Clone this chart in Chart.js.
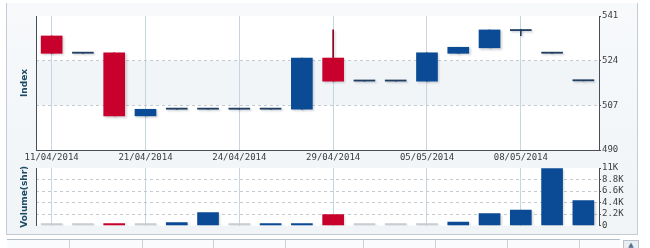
<!DOCTYPE html>
<html>
<head>
<meta charset="utf-8">
<script src="https://cdn.jsdelivr.net/npm/chart.js@4.4.1/dist/chart.umd.min.js"></script>
<style>
  body { margin: 0; width: 650px; height: 248px; background: #fff; overflow: hidden; position: relative; }
  #frame { position: absolute; left: 6px; top: 3px; width: 630px; height: 231px;
           border-left: 1px solid #c3ccd4; border-right: 1px solid #c3ccd4; border-bottom: 1px solid #c3ccd4;
           background: linear-gradient(#f7f9fb, #f0f4f7); }
  #priceBox { position: absolute; left: 0; top: 0; width: 650px; height: 165px; }
  #volBox { position: absolute; left: 0; top: 160px; width: 650px; height: 72px; }
  #strip { position: absolute; left: 7px; top: 239px; width: 613px; height: 9px; border-top: 1px solid #b4bec8; background: #fafbfc; }
  #strip div { position: absolute; top: 0; height: 9px; border-left: 1px solid #c8d0d8; }
  #scrollBtn { position: absolute; left: 623px; top: 240px; width: 14px; height: 8px; border: 1px solid #b8c2cc; border-bottom: none;
               background: #e9eef2; font: 7px 'DejaVu Sans'; color: #56708a; text-align: center; line-height: 9px; }
</style>
</head>
<body>
<div id="frame"></div>
<div id="priceBox"><canvas id="priceChart" width="650" height="165"></canvas></div>
<div id="volBox"><canvas id="volChart" width="650" height="72"></canvas></div>
<div id="strip">
  <div style="left:62px"></div><div style="left:135px"></div><div style="left:206px"></div><div style="left:278px"></div>
  <div style="left:356px"></div><div style="left:428px"></div><div style="left:500px"></div><div style="left:572px"></div>
</div>
<div id="scrollBtn">▲</div>
<script>
// dates des séances
const dates = ['11/04/2014','14/04/2014','17/04/2014','21/04/2014','22/04/2014','23/04/2014',
               '24/04/2014','25/04/2014','28/04/2014','29/04/2014','30/04/2014','02/05/2014',
               '05/05/2014','06/05/2014','07/05/2014','08/05/2014','09/05/2014','12/05/2014'];
const openVals  = [533.4, 526.8, 527.0, 503.0, 505.5, 505.5, 505.5, 505.5, 505.5, 525.0, 516.2, 516.2, 516.2, 526.8, 528.9, 535.4, 526.8, 516.3];
const closeVals = [526.8, 526.8, 503.0, 505.5, 505.5, 505.5, 505.5, 505.5, 525.0, 516.2, 516.2, 516.2, 527.0, 529.1, 535.7, 535.4, 526.8, 516.3];
const highVals  = [533.4, 526.8, 527.0, 505.5, 505.5, 505.5, 505.5, 505.5, 525.0, 535.7, 516.2, 516.2, 527.0, 529.1, 535.7, 535.9, 526.8, 516.3];
const lowVals   = [526.8, 526.8, 503.0, 503.0, 505.5, 505.5, 505.5, 505.5, 505.5, 516.2, 516.2, 516.2, 516.2, 526.8, 528.9, 533.5, 526.8, 516.3];
const volumes   = [0, 0, 150, 0, 600, 2500, 0, 350, 350, 2100, 0, 0, 0, 650, 2300, 2950, 10900, 4800];
const priceTicks = [490, 507, 524, 541];
const volTicks = [0, 2200, 4400, 6600, 8800, 11000];

const RED = '#c8002c', BLUE = '#0b4a95', FLAT = '#213f63', GREY = '#c7cdd3';
const tickFont = { family: 'DejaVu Sans Mono', size: 9 };
const titleFont = { family: 'DejaVu Sans', size: 9, weight: 'bold' };

function candleColor(i) {
  if (openVals[i] > closeVals[i]) return RED;
  if (closeVals[i] > openVals[i]) return BLUE;
  return FLAT;
}

// fond blanc + bande grise
const bandPlugin = {
  id: 'band',
  beforeDraw(chart, args, opts) {
    const { ctx, chartArea: a } = chart;
    ctx.save();
    ctx.fillStyle = '#ffffff';
    ctx.fillRect(a.left, a.top, a.width, a.height);
    if (opts.from != null) {
      const y = chart.scales.y;
      const y1 = y.getPixelForValue(opts.to), y2 = y.getPixelForValue(opts.from);
      ctx.fillStyle = '#f2f5f8';
      ctx.fillRect(a.left, y1, a.width, y2 - y1);
    }
    ctx.restore();
  }
};
const shadowPlugin = {
  id: 'shadow',
  beforeDatasetsDraw(chart) {
    const ctx = chart.ctx;
    ctx.save();
    ctx.shadowColor = 'rgba(60,70,80,0.22)';
    ctx.shadowOffsetX = 1.5;
    ctx.shadowOffsetY = 1.5;
    ctx.shadowBlur = 2;
  },
  afterDatasetsDraw(chart) { chart.ctx.restore(); }
};

const vGrid = {
  offset: false,
  drawTicks: false,
  color: c => (c.index % 3 === 0 ? '#c9d5de' : 'rgba(0,0,0,0)')
};

new Chart(document.getElementById('priceChart'), {
  type: 'bar',
  data: {
    labels: dates,
    datasets: [
      {
        label: 'body',
        data: dates.map((d, i) => [openVals[i], closeVals[i]]),
        backgroundColor: dates.map((d, i) => candleColor(i)),
        barThickness: 21,
        minBarLength: 1.2,
        grouped: false,
        order: 1,
        yAxisID: 'y'
      },
      {
        label: 'wick',
        data: dates.map((d, i) => [lowVals[i], highVals[i]]),
        backgroundColor: dates.map((d, i) => openVals[i] > closeVals[i] ? '#8e0020' : FLAT),
        barThickness: 1,
        grouped: false,
        order: 2,
        yAxisID: 'y'
      }
    ]
  },
  options: {
    responsive: false,
    animation: false,
    layout: { padding: { top: 16, left: 0, right: 0, bottom: 0 } },
    plugins: { legend: { display: false }, tooltip: { enabled: false }, band: { from: 507, to: 524 } },
    scales: {
      x: {
        grid: vGrid,
        border: { color: '#4a4f55', width: 1 },
        afterFit: s => { s.height = 15; },
        ticks: {
          autoSkip: false, maxRotation: 0, padding: 2, color: '#3c3c3c', font: tickFont,
          callback: (v, i) => (i % 3 === 0 ? dates[i] : '')
        }
      },
      yL: {
        type: 'linear', position: 'left',
        grid: { display: false, drawTicks: false },
        ticks: { display: false },
        border: { color: '#4a4f55', width: 1 },
        title: { display: true, text: 'Index', color: '#1d4a66', font: titleFont, padding: { top: 19, bottom: 0 } },
        afterFit: s => { s.width = 36; }
      },
      y: {
        position: 'right', min: 490, max: 541,
        afterBuildTicks: s => { s.ticks = priceTicks.map(v => ({ value: v })); },
        afterFit: s => { s.width = 51; },
        border: { color: '#4a4f55', width: 1, dash: [3, 3] },
        grid: {
          tickLength: 2, tickColor: '#4a4f55',
          color: c => (c.tick && (c.tick.value === 507 || c.tick.value === 524) ? '#c2cad2' : 'rgba(0,0,0,0)')
        },
        ticks: { autoSkip: false, padding: 1, color: '#3c3c3c', font: tickFont }
      }
    }
  },
  plugins: [bandPlugin, shadowPlugin]
});

new Chart(document.getElementById('volChart'), {
  type: 'bar',
  data: {
    labels: dates,
    datasets: [{
      label: 'Volume',
      data: volumes,
      backgroundColor: volumes.map((v, i) => (v === 0 ? GREY : (openVals[i] > closeVals[i] ? RED : BLUE))),
      barThickness: 21,
      minBarLength: 2,
      yAxisID: 'y'
    }]
  },
  options: {
    responsive: false,
    animation: false,
    layout: { padding: { top: 8, left: 0, right: 0, bottom: 6 } },
    plugins: { legend: { display: false }, tooltip: { enabled: false }, band: {} },
    scales: {
      x: {
        grid: vGrid,
        border: { display: false },
        ticks: { display: false },
        afterFit: s => { s.height = 0; }
      },
      yL: {
        type: 'linear', position: 'left',
        grid: { display: false, drawTicks: false },
        ticks: { display: false },
        border: { color: '#4a4f55', width: 1 },
        title: { display: true, text: 'Volume(shr)', color: '#1d4a66', font: titleFont, padding: { top: 19, bottom: 0 } },
        afterFit: s => { s.width = 36; }
      },
      y: {
        position: 'right', min: 0, max: 11000,
        afterBuildTicks: s => { s.ticks = volTicks.map(v => ({ value: v })); },
        afterFit: s => { s.width = 51; },
        border: { color: '#4a4f55', width: 1, dash: [3, 3] },
        grid: {
          tickLength: 2, tickColor: '#4a4f55',
          color: c => (c.tick && c.tick.value > 0 && c.tick.value < 11000 ? '#c2cad2' : 'rgba(0,0,0,0)')
        },
        ticks: {
          autoSkip: false, padding: 1, color: '#3c3c3c', font: tickFont,
          callback: v => (v === 0 ? '0' : (v / 1000) + 'K')
        }
      }
    }
  },
  plugins: [bandPlugin, shadowPlugin]
});
</script>
</body>
</html>
